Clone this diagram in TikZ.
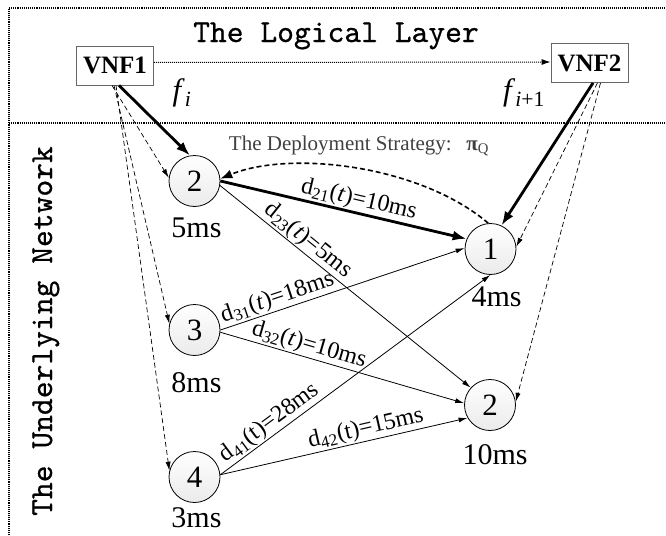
\documentclass[tikz,border=0pt]{standalone}
\usepackage{fontspec}
\setmainfont{Liberation Serif}
\newfontfamily\layerfont{lmmono10-regular.otf}[FakeBold=0.6]
\usetikzlibrary{arrows.meta}
\begin{document}
\begin{tikzpicture}[x=1pt,y=-1pt,
  frame/.style={line width=1.1pt, densely dotted},
  vnf/.style={draw=black!60, line width=0.8pt, minimum width=77pt, minimum height=39pt, inner sep=0pt, font=\fontsize{25}{28}\selectfont\bfseries},
  net/.style={circle, draw, line width=0.8pt, top color=white, bottom color=black!8, minimum size=51pt, inner sep=0pt, font=\fontsize{31}{34}\selectfont},
  dly/.style={font=\fontsize{30}{34}\selectfont, inner sep=0pt},
  ln/.style={line width=0.8pt, -{Latex[length=9pt,width=5pt]}},
  dsh/.style={line width=0.7pt, dash pattern=on 5pt off 3pt, -{Latex[length=9pt,width=5pt]}},
  thk/.style={line width=2.8pt, -{Latex[length=14pt,width=10pt]}},
  lab/.style={sloped, above, inner sep=1pt, font=\fontsize{24}{26}\selectfont},
  layer/.style={font=\layerfont\fontsize{32}{36}\selectfont, inner sep=0pt, anchor=base}
]
\useasboundingbox (0,0) rectangle (666,535);

% frames
\draw[frame] (9,535) -- (9,8) -- (666,8);
\draw[frame] (9,123) -- (666,123);

% layer titles
\node[layer] (ll) at (336,42) {The Logical Layer};
\node[layer, rotate=90] (un) at (52,331) {The Underlying Network};

% VNF boxes
\node[vnf] (v1) at (115,65.5) {VNF1};
\node[vnf] (v2) at (589.5,63) {VNF2};

% function labels
\node[font=\fontsize{31}{34}\selectfont, inner sep=0pt] (fi) at (182,93) {\textit{f}\textsubscript{\textit{i}}};
\node[font=\fontsize{31}{34}\selectfont, inner sep=0pt] (fi1) at (524,93) {\textit{f}\textsubscript{\textit{i}+1}};

% network nodes
\node[net] (n2) at (194.5,181) {2};
\node[net] (n1) at (490.5,249) {1};
\node[net] (n3) at (194.5,330) {3};
\node[net] (n2b) at (490,405) {2};
\node[net] (n4) at (194.5,477) {4};

% delays
\node[dly] (t2) at (196.5,228) {5ms};
\node[dly] (t1) at (496.5,297) {4ms};
\node[dly] (t3) at (196.5,383) {8ms};
\node[dly] (t2b) at (495,455) {10ms};
\node[dly] (t4) at (196.5,518) {3ms};

% strategy label
\node[font=\fontsize{21}{24}\selectfont, text=black!75, inner sep=0pt, anchor=base] (ds) at (359,150)
  {The Deployment Strategy:\hspace{0.7em}\textbf{π}\textsubscript{Q}};

% logical link
\draw[densely dotted, line width=1pt, -{Latex[length=9pt,width=6pt]}] ([yshift=3pt]v1.east) -- ([yshift=1pt]v2.west);

% mapping VNF1
\draw[dsh] ([xshift=-3pt]v1.south) -- (n2.173);
\draw[dsh] ([xshift=-1pt]v1.south) -- (n3.166);
\draw[dsh] ([xshift=1pt]v1.south) -- (n4.166);
\draw[thk] ([xshift=4pt]v1.south) -- (n2.100);

% mapping VNF2
\draw[thk] ([xshift=3.5pt]v2.south) -- (n1.65);
\draw[dsh] ([xshift=8pt]v2.south) -- (n1.5);
\draw[dsh] ([xshift=11pt]v2.south) -- (n2b.7);

% deployment strategy curve
\draw[line width=1.6pt, dash pattern=on 5pt off 3pt, -{Latex[length=12pt,width=9pt]}]
  (n1.95) .. controls (420,165) and (290,150) .. (n2.5);

% network links
\draw[thk] (n2.0) -- node[lab, pos=0.55] {d\textsubscript{21}(\textit{t})=10ms} (n1.157);
\draw[ln] (n2.-10) -- node[lab, pos=0.32] {d\textsubscript{23}(\textit{t})=5ms} (n2b.138);
\draw[ln] (n3.0) -- node[lab, pos=0.25] {d\textsubscript{31}(\textit{t})=18ms} (n1.178);
\draw[ln] (n3.-5) -- node[lab, pos=0.35] {d\textsubscript{32}(\textit{t})=10ms} (n2b.176);
\draw[ln] (n4.5) -- node[lab, pos=0.21] {d\textsubscript{41}(t)=28ms} (n1.-90);
\draw[ln] (n4.5) -- node[lab, pos=0.6] {d\textsubscript{42}(t)=15ms} (n2b.210);
\end{tikzpicture}
\end{document}
